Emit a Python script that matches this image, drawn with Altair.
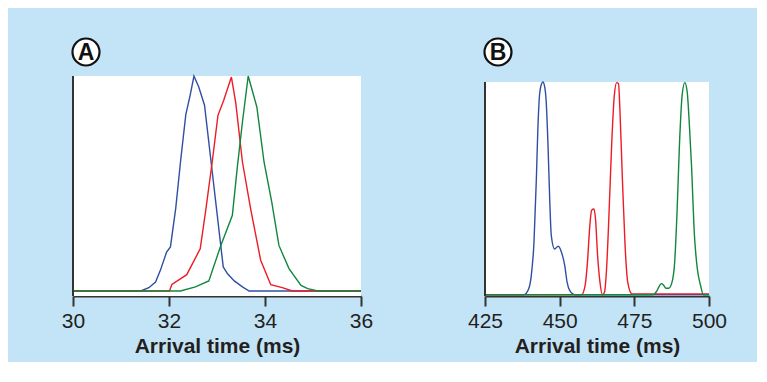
import altair as alt
import pandas as pd

# ---------------- Panel A data (arrival time in ms, normalised intensity) -------------
a_blue_t = [30, 31.41, 31.58, 31.72, 31.82, 31.95, 32.03, 32.14, 32.24, 32.35, 32.44,
            32.52, 32.62, 32.74, 33.13, 33.22, 33.36, 33.53, 33.67, 36]
a_blue_v = [0, 0, 0.015, 0.042, 0.096, 0.181, 0.205, 0.384, 0.601, 0.82, 0.91,
            1.0, 0.949, 0.864, 0.112, 0.08, 0.047, 0.019, 0, 0]

a_red_t = [30, 32.01, 32.06, 32.37, 32.65, 32.76, 32.9, 33.02, 33.14, 33.3,
           33.39, 33.53, 33.7, 33.91, 34.12, 34.36, 34.57, 36]
a_red_v = [0, 0, 0.03, 0.076, 0.196, 0.367, 0.6, 0.817, 0.887, 0.995,
           0.876, 0.6, 0.383, 0.143, 0.029, 0.016, 0, 0]

a_green_t = [30, 32.24, 32.55, 32.83, 33.08, 33.32, 33.42, 33.53, 33.65, 33.83,
             33.98, 34.14, 34.29, 34.5, 34.75, 34.89, 35.1, 36]
a_green_v = [0, 0, 0.019, 0.047, 0.212, 0.352, 0.569, 0.786, 1.0, 0.856,
             0.6, 0.414, 0.212, 0.104, 0.026, 0.011, 0, 0]

# ---------------- Panel B data -------------
b_blue_t = [425, 438.0, 439.6, 440.5, 441.4, 442.2, 442.7, 443.3, 443.9, 444.4, 445.0,
            445.5, 446.1, 446.7, 447.2, 448.3, 449.5, 450.6, 451.7, 452.5, 453.4, 455.1, 500]
b_blue_v = [0, 0, 0.027, 0.09, 0.247, 0.545, 0.78, 0.945, 0.99, 1.0, 0.976,
            0.906, 0.702, 0.435, 0.278, 0.215, 0.228, 0.2, 0.137, 0.058, 0.019, 0, 0]

b_red_t = [425, 457.3, 458.5, 459.3, 460.1, 460.7, 461.5, 462.0, 462.7, 463.5, 464.3,
           465.0, 465.7, 466.5, 467.4, 468.3, 469.1, 469.7, 470.2, 471.0, 471.9, 472.8, 474.2, 500]
b_red_v = [0, 0, 0.042, 0.152, 0.325, 0.397, 0.403, 0.356, 0.184, 0.058, 0.0,
           0.011, 0.121, 0.372, 0.702, 0.937, 0.997, 0.992, 0.859, 0.545, 0.231, 0.058, 0.004, 0.004]

b_green_t = [425, 481.2, 482.6, 483.4, 484.1, 484.8, 485.6, 486.5, 487.6, 488.5, 489.3,
             490.1, 491.0, 491.9, 492.7, 493.5, 494.2, 495.0, 496.1, 497.2, 498.1, 500]
b_green_v = [0, 0, 0.019, 0.042, 0.052, 0.045, 0.03, 0.03, 0.058, 0.152, 0.388,
             0.702, 0.937, 0.997, 0.953, 0.78, 0.592, 0.309, 0.121, 0.042, 0, 0]

a_ticks = [30, 32, 34, 36]
b_ticks = [425, 450, 475, 500]
panel_labels = ["A", "B"]
series_names = ["s1 blue", "s2 red", "s3 green"]
series_colors = ["#2F4FA2", "#EC1C24", "#11873D"]

FONT = "Liberation Sans"
TXT = "#231F20"
BG = "#C3E4F6"
AX = "#333333"


def long_df(groups):
    rows = []
    for name, ts, vs in groups:
        for t, v in zip(ts, vs):
            rows.append({"s": name, "t": t, "v": v})
    return pd.DataFrame(rows)


df_a = long_df([(series_names[0], a_blue_t, a_blue_v),
                (series_names[1], a_red_t, a_red_v),
                (series_names[2], a_green_t, a_green_v)])
df_b = long_df([(series_names[0], b_blue_t, b_blue_v),
                (series_names[1], b_red_t, b_red_v),
                (series_names[2], b_green_t, b_green_v)])

color = alt.Color("s:N", scale=alt.Scale(domain=series_names, range=series_colors), legend=None)


def x_axis(ticks):
    return alt.Axis(values=ticks, title="Arrival time (ms)", grid=False, format="d",
                    labelFont=FONT, labelFontSize=21, labelColor=TXT, labelPadding=4,
                    titleFont=FONT, titleFontSize=21, titleFontWeight="bold", titleColor=TXT,
                    titlePadding=4, domainColor=AX, domainWidth=2,
                    tickColor=AX, tickWidth=2, tickSize=10, labelFlush=False)


def panel(df, dom, ticks, ydom, frame_top, interp, label, w, h):
    xenc = alt.X("t:Q", scale=alt.Scale(domain=dom, nice=False, zero=False), axis=x_axis(ticks))
    yscale = alt.Scale(domain=ydom, nice=False, zero=False)
    yenc = alt.Y("v:Q", scale=yscale,
                 axis=alt.Axis(labels=False, ticks=False, title=None, grid=False, domain=False))
    frame_df = pd.DataFrame({"t": [dom[0]], "t2": [dom[1]], "v": [ydom[0]], "v2": [frame_top]})
    frame = alt.Chart(frame_df).mark_rect(fill="white", stroke=None).encode(
        x=xenc, x2="t2:Q", y=yenc, y2="v2:Q")
    yline = alt.Chart(frame_df).mark_rule(color=AX, strokeWidth=2).encode(
        x="t:Q", y="v:Q", y2="v2:Q")
    lines = alt.Chart(df).mark_line(strokeWidth=1.4, interpolate=interp).encode(
        x=xenc, y=yenc, color=color, detail="s:N")
    lab_df = pd.DataFrame({"lab": [label]})
    circ = alt.Chart(lab_df).mark_point(shape="circle", size=730, filled=True, fill="white",
                                        stroke="#111111", strokeWidth=2.2, opacity=1).encode(
        x=alt.value(13), y=alt.value(-24))
    txt = alt.Chart(lab_df).mark_text(font=FONT, fontSize=23, fontWeight="bold", color="#111111",
                                      align="center", baseline="middle").encode(
        x=alt.value(13), y=alt.value(-23), text="lab:N")
    return alt.layer(frame, lines, yline, circ, txt).properties(width=w, height=h)


pa = panel(df_a, [30, 36], a_ticks, [-0.0233, 1.0], 1.0, "linear", panel_labels[0], 288, 220)
pb = panel(df_b, [425, 500], b_ticks, [-0.0061, 1.0282], 1.0, "monotone", panel_labels[1], 224, 220)

chart = alt.hconcat(pa, pb, spacing=94).properties(
    background=BG,
    padding={"left": 53, "top": 26, "right": 30, "bottom": 6},
).configure_view(stroke=None, fill=None)

chart.save("out.html", embed_options={"renderer": "svg", "actions": False})
